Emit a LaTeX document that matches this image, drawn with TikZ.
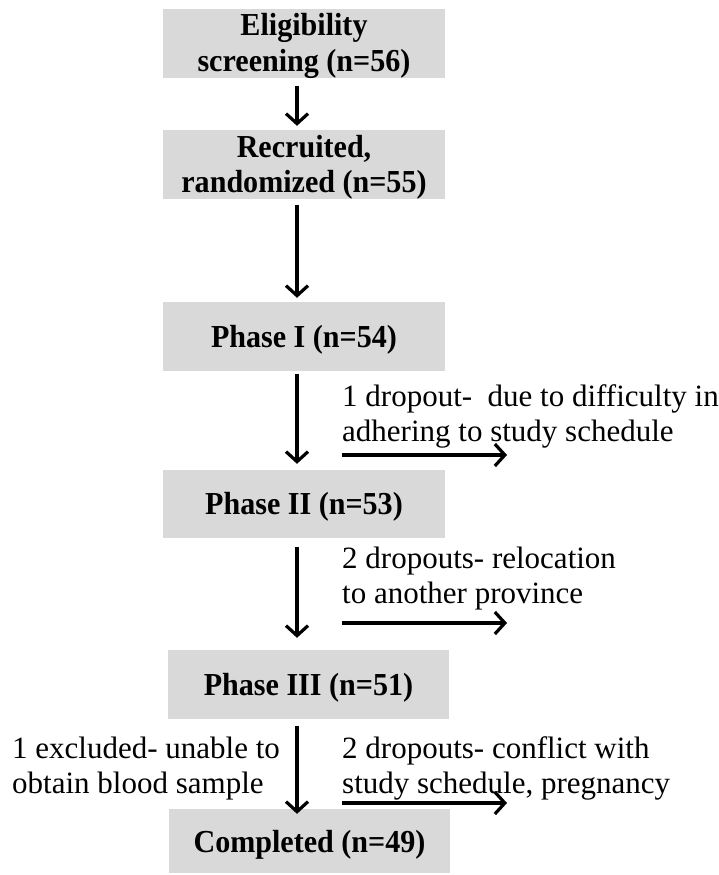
\documentclass[tikz,border=0pt]{standalone}
\usepackage{fontspec}
\setmainfont{Liberation Serif}
\newfontfamily\boxfont[FakeStretch=0.94]{Liberation Serif}
\usetikzlibrary{arrows.meta}
\definecolor{boxgray}{HTML}{D9D9D9}
\begin{document}
\begin{tikzpicture}[x=1pt,y=-1pt,
  box/.style={fill=boxgray, inner sep=0pt, minimum width=282pt, minimum height=69pt},
  btxt/.style={font=\boxfont\fontsize{32}{35}\selectfont\bfseries, inner sep=0pt, anchor=base},
  rtxt/.style={font=\fontsize{31}{35}\selectfont, inner sep=0pt, anchor=base west},
  arr/.style={line width=3.2pt, -{Straight Barb[length=10pt,width=22pt,line width=3.2pt]}}
]
\useasboundingbox (0,0) rectangle (718,875);
% boxes
\node[box] (b1) at (304,43.5) {};
\node[box] (b2) at (304,164.5) {};
\node[box] (b3) at (304,336.5) {};
\node[box, minimum height=68pt] (b4) at (304,504) {};
\node[box, minimum width=281pt] (b5) at (308.5,684.5) {};
\node[box, minimum width=281pt, minimum height=64pt] (b6) at (309.5,841) {};
% box texts
\node[btxt] (t1a) at (304,36) {Eligibility};
\node[btxt] (t1b) at (304,71) {screening (n=56)};
\node[btxt] (t2a) at (304,157) {Recruited,};
\node[btxt] (t2b) at (304,192) {randomized (n=55)};
\node[btxt] (t3) at (304,347) {Phase I (n=54)};
\node[btxt] (t4) at (304,514) {Phase II (n=53)};
\node[btxt] (t5) at (308.5,695) {Phase III (n=51)};
\node[btxt] (t6) at (309.5,852) {Completed (n=49)};
% main arrows
\coordinate (ax) at (297,0);
\draw[arr, shorten <=8pt, shorten >=4pt] (b1.south -| ax) -- (b2.north -| ax);
\draw[arr, shorten <=6pt, shorten >=4pt] (b2.south -| ax) -- (b3.north -| ax);
\draw[arr, shorten <=3pt, shorten >=6pt] (b3.south -| ax) -- (b4.north -| ax);
\draw[arr, shorten <=9pt, shorten >=12pt] (b4.south -| ax) -- (b5.north -| ax);
\draw[arr, shorten <=7pt, shorten >=-5pt] (b5.south -| ax) -- (b6.north -| ax);
% side arrows
\coordinate (s1a) at (342,455); \coordinate (s1b) at (507,455);
\coordinate (s2a) at (342,623); \coordinate (s2b) at (507,623);
\coordinate (s3a) at (342,803); \coordinate (s3b) at (507,803);
\draw[arr] (s1a) -- (s1b);
\draw[arr] (s2a) -- (s2b);
\draw[arr] (s3a) -- (s3b);
% side texts
\node[rtxt] (d1a) at (342,406) {1 dropout-\ \ due to difficulty in};
\node[rtxt] (d1b) at (342,441) {adhering to study schedule};
\node[rtxt] (d2a) at (342,568) {2 dropouts- relocation};
\node[rtxt] (d2b) at (342,603) {to another province};
\node[rtxt] (d3a) at (342,758) {2 dropouts- conflict with};
\node[rtxt] (d3b) at (342,793) {study schedule, pregnancy};
\node[rtxt] (e1a) at (12,758) {1 excluded- unable to};
\node[rtxt] (e1b) at (12,793) {obtain blood sample};
\end{tikzpicture}
\end{document}
